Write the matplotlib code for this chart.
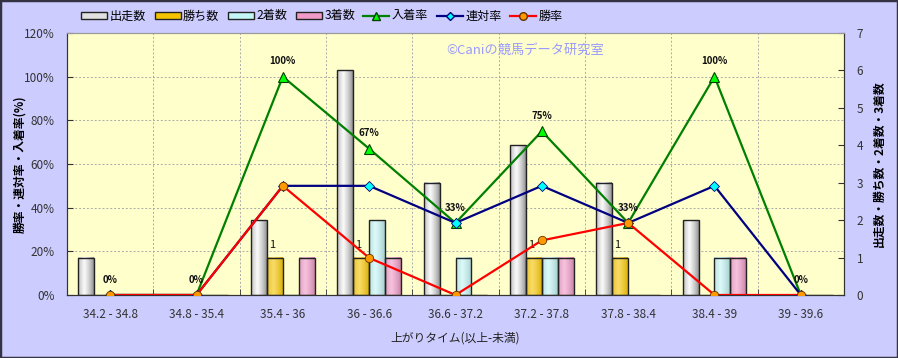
import matplotlib
matplotlib.use('Agg')
import matplotlib.pyplot as plt
import numpy as np
from matplotlib.patches import Patch, Rectangle
from matplotlib.lines import Line2D
from matplotlib.colors import to_rgb

plt.rcParams['font.family'] = ['Noto Sans CJK JP', 'DejaVu Sans']

categories = ['34.2 - 34.8', '34.8 - 35.4', '35.4 - 36', '36 - 36.6', '36.6 - 37.2',
              '37.2 - 37.8', '37.8 - 38.4', '38.4 - 39', '39 - 39.6']
runs = [1, 0, 2, 6, 3, 4, 3, 2, 0]        # 出走数
wins = [0, 0, 1, 1, 0, 1, 1, 0, 0]        # 勝ち数
second = [0, 0, 0, 2, 1, 1, 0, 1, 0]      # 2着数
third = [0, 0, 1, 1, 0, 1, 0, 1, 0]       # 3着数
place_rate = [0, 0, 100, 67, 33, 75, 33, 100, 0]   # 入着率
quinella_rate = [0, 0, 50, 50, 33, 50, 33, 50, 0]  # 連対率
win_rate = [0, 0, 50, 17, 0, 25, 33, 0, 0]         # 勝率
place_labels = ['0%', '0%', '100%', '67%', '33%', '75%', '33%', '100%', '0%']

bg = '#CCCCFF'
fig = plt.figure(figsize=(8.98, 3.58), dpi=100, facecolor=bg)
ax = fig.add_axes([67 / 898, 1 - 295 / 358, 777 / 898, 262 / 358])
ax2 = ax.twinx()
ax.set_zorder(ax2.get_zorder() + 1)
ax.patch.set_visible(False)
ax2.patch.set_visible(True)
ax2.patch.set_facecolor('#FFFFCC')

x = np.arange(len(categories))
w = 0.185

# grid (behind bars)
for p in [20, 40, 60, 80, 100]:
    ax2.axhline(7 * p / 120, color='#AAAAAA', ls=(0, (2, 2)), lw=0.7, zorder=1)
for b in np.arange(0.5, len(categories) - 0.5, 1):
    ax2.axvline(b, color='#AAAAAA', ls=(0, (2, 2)), lw=0.7, zorder=1)


def gradient(base, dark_amt, n=64):
    t = np.linspace(0, 1, n)
    f = np.clip(1 - np.abs(t - 0.4) / 0.6, 0, 1) ** 0.7
    c = np.array(to_rgb(base))
    dark = c * (1 - dark_amt)
    light = c + (1 - c) * 0.4
    g = dark[None, :] + (light - dark)[None, :] * f[:, None]
    return np.clip(g, 0, 1)[None, :, :]


series = [(runs, '#F8F8F8', 0.45), (wins, '#F5C400', 0.12),
          (second, '#C4F6F6', 0.18), (third, '#F29AC8', 0.18)]
for k, (vals, col, da) in enumerate(series):
    off = (k - 1.5) * w
    img = gradient(col, da)
    for xi, v in zip(x, vals):
        if v <= 0:
            continue
        ax2.imshow(img, extent=[xi + off - w / 2, xi + off + w / 2, 0, v],
                   aspect='auto', zorder=2, interpolation='bilinear')
    ax2.bar(x + off, vals, w, facecolor='none', edgecolor='#222222', lw=1.0, zorder=3)

for xi, v in zip(x, wins):
    if v > 0:
        ax2.text(xi - 0.5 * w - 0.03, v + 0.2, str(v), ha='center', va='bottom', fontsize=8,
                 color='#111111', zorder=4)

ax2.set_xlim(-0.5, len(categories) - 0.5)
ax2.set_ylim(0, 7)
ax2.set_yticks(range(0, 8))
ax2.tick_params(axis='y', direction='in', length=4, labelsize=8.5, labelcolor='#333333',
                color='#333333', pad=9)
ax2.set_ylabel('出走数・勝ち数・2着数・3着数', fontsize=8.5, fontweight='bold', labelpad=7)

# lines
ax.plot(x, place_rate, color='#008000', lw=1.6, marker='^', ms=7, mfc='#00FF00',
        mec='#004000', mew=0.8, zorder=3)
ax.plot(x, quinella_rate, color='#000080', lw=1.6, marker='D', ms=5, mfc='#00FFFF',
        mec='#000080', mew=0.6, zorder=4)
ax.plot(x, win_rate, color='#FF0000', lw=1.6, marker='o', ms=6, mfc='#FF9900',
        mec='#663300', mew=0.6, zorder=5)
for xi, v, lab in zip(x, place_rate, place_labels):
    ax.annotate(lab, (xi, v), xytext=(0, 11), textcoords='offset points', ha='center',
                va='center', fontsize=7, fontweight='bold', color='#111111', zorder=6)

ax.set_xlim(-0.5, len(categories) - 0.5)
ax.set_ylim(0, 120)
ax.set_yticks(range(0, 121, 20))
ax.set_yticklabels([f'{v}%' for v in range(0, 121, 20)])
ax.tick_params(axis='y', direction='in', length=4, labelsize=8.5, labelcolor='#333333',
               color='#333333', pad=9)
ax.set_xticks(x)
ax.set_xticklabels(categories)
ax.set_xticks(np.arange(0.5, len(categories) - 0.5, 1), minor=True)
ax.tick_params(axis='x', which='major', length=0, labelsize=8.5, labelcolor='#333333', pad=9)
ax.tick_params(axis='x', which='minor', direction='in', length=4, color='#333333')
ax.set_xlabel('上がりタイム(以上-未満)', fontsize=8.5, color='#222222', labelpad=8)
ax.set_ylabel('勝率・連対率・入着率(%)', fontsize=8.5, fontweight='bold', labelpad=-2)

for a in (ax, ax2):
    for s in ['left', 'bottom', 'right']:
        a.spines[s].set_color('#333333')
    a.spines['top'].set_color('#999999')

ax.text(0.589, 0.935, '©Caniの競馬データ研究室', transform=ax.transAxes, ha='center',
        va='center', fontsize=9.5, color='#9999FF', zorder=7)

# legend
handles = [
    Patch(facecolor='#E0E0E0', edgecolor='#222222', label='出走数'),
    Patch(facecolor='#F5C400', edgecolor='#222222', label='勝ち数'),
    Patch(facecolor='#C4F6F6', edgecolor='#222222', label='2着数'),
    Patch(facecolor='#F29AC8', edgecolor='#222222', label='3着数'),
    Line2D([], [], color='#008000', lw=1.6, marker='^', ms=6, mfc='#00FF00', mec='#004000',
           label='入着率'),
    Line2D([], [], color='#000080', lw=1.6, marker='D', ms=4.5, mfc='#00FFFF', mec='#000080',
           label='連対率'),
    Line2D([], [], color='#FF0000', lw=1.6, marker='o', ms=5.5, mfc='#FF9900', mec='#663300',
           label='勝率'),
]
fig.legend(handles=handles, loc='center', bbox_to_anchor=(322 / 898, 1 - 16 / 358), ncol=7,
           frameon=False, fontsize=8.7, handlelength=2.15, handleheight=0.55,
           handletextpad=0.2, columnspacing=0.7)

fig.patches.append(Rectangle((0, 0), 1, 1, transform=fig.transFigure, fill=False,
                             edgecolor='#333344', lw=2.5))

fig.savefig('out.png', dpi=100, facecolor=bg)
